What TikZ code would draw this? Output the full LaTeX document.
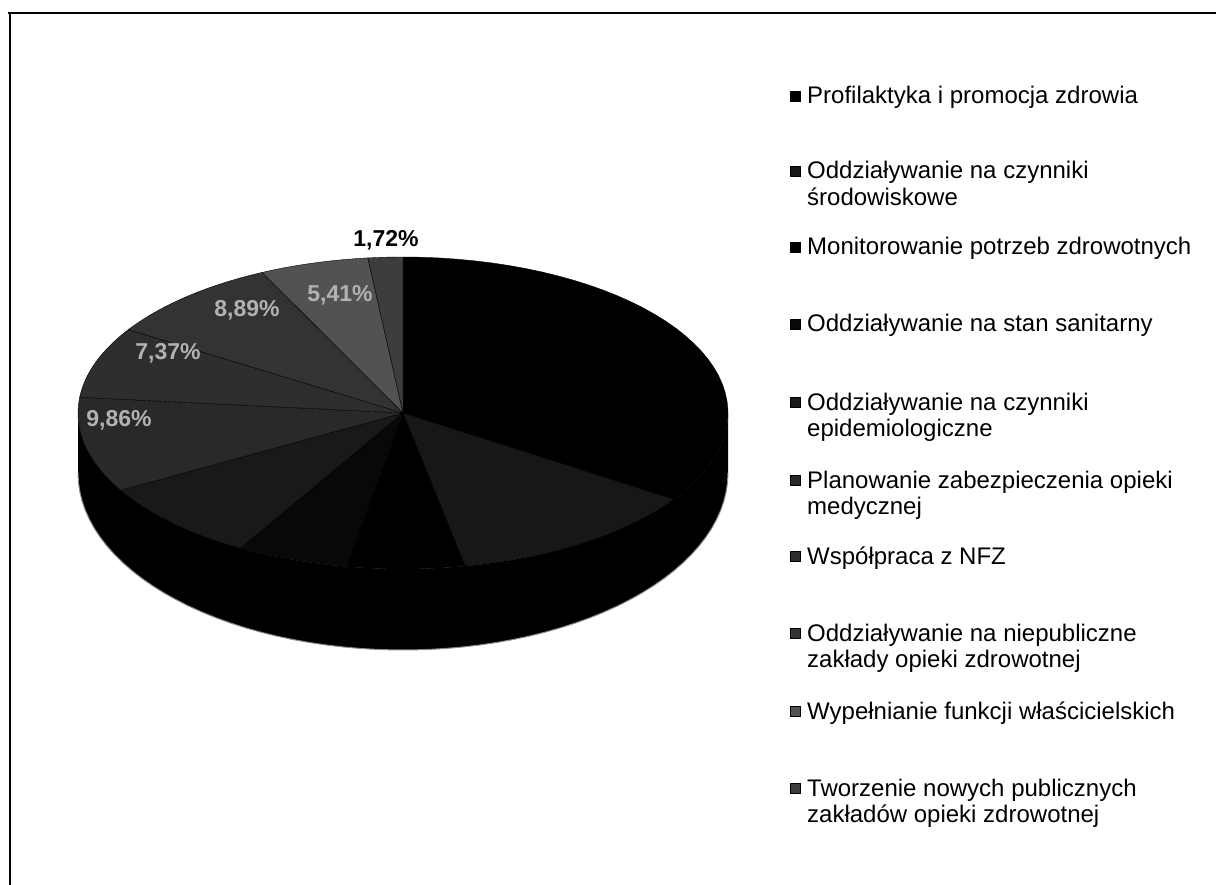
\documentclass[tikz,border=0pt]{standalone}
\usepackage{fontspec}
\setmainfont{Liberation Sans}
\usepackage{tikz}

% slice colours of the scanned chart
\colorlet{sliceprof}{black}
\colorlet{slicesrod}{black!91}
\colorlet{slicemon}{black}
\colorlet{slicesan}{black!97}
\colorlet{sliceepi}{black!90}
\colorlet{sliceplan}{black!84}
\colorlet{slicenfz}{black!82}
\colorlet{slicenzoz}{black!80}
\colorlet{slicewlas}{black!68}
\colorlet{slicetworz}{black!76}

\tikzset{
  slice/.style={draw=black, line width=0.4pt},
  legbox/.style={draw=black, line width=0.6pt, minimum size=10pt, inner sep=0pt},
  legtext/.style={anchor=base west, inner sep=0pt, align=left, font=\fontsize{24}{26.5}\selectfont},
  pctlabel/.style={font=\bfseries\fontsize{23}{26}\selectfont, inner sep=0pt}
}

\begin{document}
\begin{tikzpicture}[x=1pt, y=-1pt]
                \useasboundingbox (0,0) rectangle (1216,885);

                % Draw the frame (top and left edge)
                \draw[line width=1.6pt] (8,13) -- (1216,13);
                \draw[line width=1.6pt] (10,13) -- (10,885);

                % Draw the side of the pie
                \fill[black] plot[domain=180:360, samples=60] ({403+325*cos(\x)},{413-156*sin(\x)})
                  -- plot[domain=360:180, samples=60] ({403+325*cos(\x)},{473-177*sin(\x)}) -- cycle;
                \draw[black!45, line width=1pt] plot[domain=180:360, samples=60] ({403+325*cos(\x)},{473-177*sin(\x)});

                % Draw the slices (clockwise from the top)
                \draw[slice, fill=sliceprof] (403,413) -- plot[domain=90:-33.6, samples=40] ({403+325*cos(\x)},{413-156*sin(\x)}) -- cycle;
                \draw[slice, fill=slicesrod] (403,413) -- plot[domain=-33.6:-79, samples=20] ({403+325*cos(\x)},{413-156*sin(\x)}) -- cycle;
                \draw[slice, fill=slicemon] (403,413) -- plot[domain=-79:-100, samples=10] ({403+325*cos(\x)},{413-156*sin(\x)}) -- cycle;
                \draw[slice, fill=slicesan] (403,413) -- plot[domain=-100:-120, samples=10] ({403+325*cos(\x)},{413-156*sin(\x)}) -- cycle;
                \draw[slice, fill=sliceepi] (403,413) -- plot[domain=-120:-150.3, samples=15] ({403+325*cos(\x)},{413-156*sin(\x)}) -- cycle;
                \draw[slice, fill=sliceplan] (403,413) -- plot[domain=-150.3:-185.8, samples=15] ({403+325*cos(\x)},{413-156*sin(\x)}) -- cycle;
                \draw[slice, fill=slicenfz] (403,413) -- plot[domain=-185.8:-212.3, samples=15] ({403+325*cos(\x)},{413-156*sin(\x)}) -- cycle;
                \draw[slice, fill=slicenzoz] (403,413) -- plot[domain=-212.3:-244.3, samples=15] ({403+325*cos(\x)},{413-156*sin(\x)}) -- cycle;
                \draw[slice, fill=slicewlas] (403,413) -- plot[domain=-244.3:-263.8, samples=10] ({403+325*cos(\x)},{413-156*sin(\x)}) -- cycle;
                \draw[slice, fill=slicetworz] (403,413) -- plot[domain=-263.8:-270, samples=5] ({403+325*cos(\x)},{413-156*sin(\x)}) -- cycle;

                % Add percentage labels
                \node[pctlabel, text=black] (pcttworz) at (386,240) {1,72\%};
                \node[pctlabel, text=black!30] (pctwlas) at (340,295) {5,41\%};
                \node[pctlabel, text=black!30] (pctnzoz) at (247,310) {8,89\%};
                \node[pctlabel, text=black!30] (pctnfz) at (168,353) {7,37\%};
                \node[pctlabel, text=black!30] (pctplan) at (119,420) {9,86\%};

                % Draw the legend (base of a two-line entry is its second line)
                \node[legbox, fill=sliceprof] (boxprof) at (795,96) {};
                \node[legtext] (legprof) at (807,104) {Profilaktyka i promocja zdrowia};
                \node[legbox, fill=slicesrod] (boxsrod) at (795,171) {};
                \node[legtext] (legsrod) at (807,205.5) {Oddziaływanie na czynniki\\środowiskowe};
                \node[legbox, fill=slicemon] (boxmon) at (795,247) {};
                \node[legtext] (legmon) at (807,255) {Monitorowanie potrzeb zdrowotnych};
                \node[legbox, fill=slicesan] (boxsan) at (795,324) {};
                \node[legtext] (legsan) at (807,332) {Oddziaływanie na stan sanitarny};
                \node[legbox, fill=sliceepi] (boxepi) at (795,402) {};
                \node[legtext] (legepi) at (807,436.5) {Oddziaływanie na czynniki\\epidemiologiczne};
                \node[legbox, fill=sliceplan] (boxplan) at (795,480) {};
                \node[legtext] (legplan) at (807,514.5) {Planowanie zabezpieczenia opieki\\medycznej};
                \node[legbox, fill=slicenfz] (boxnfz) at (795,556) {};
                \node[legtext] (legnfz) at (807,564) {Współpraca z NFZ};
                \node[legbox, fill=slicenzoz] (boxnzoz) at (795,633) {};
                \node[legtext] (legnzoz) at (807,667.5) {Oddziaływanie na niepubliczne\\zakłady opieki zdrowotnej};
                \node[legbox, fill=slicewlas] (boxwlas) at (795,711) {};
                \node[legtext] (legwlas) at (807,719) {Wypełnianie funkcji właścicielskich};
                \node[legbox, fill=slicetworz] (boxtworz) at (795,788) {};
                \node[legtext] (legtworz) at (807,822.5) {Tworzenie nowych publicznych\\zakładów opieki zdrowotnej};
\end{tikzpicture}
\end{document}
